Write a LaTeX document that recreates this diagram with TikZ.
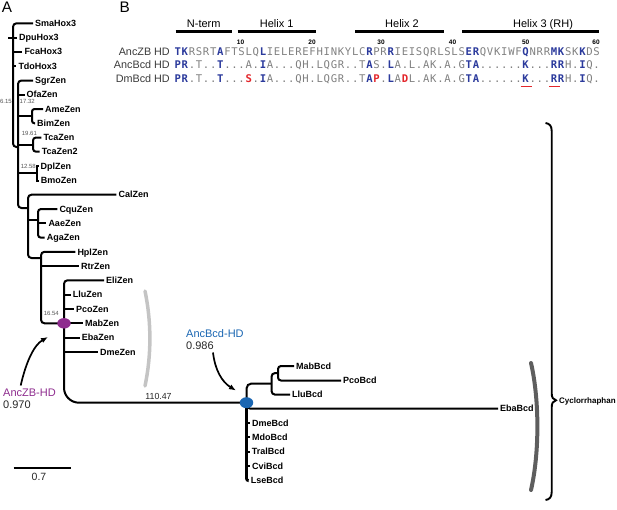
\documentclass[tikz,border=0pt]{standalone}
\usepackage{fontspec}
\setmainfont{Liberation Sans}
\newfontfamily\seqfont{DejaVu Sans Mono}
\usetikzlibrary{shapes.geometric,arrows.meta}
\definecolor{seqgray}{HTML}{808080}
\definecolor{seqblue}{HTML}{2B3A9C}
\definecolor{seqred}{HTML}{E3262B}
\definecolor{ancpurple}{HTML}{8E2C8E}
\definecolor{ancblue}{HTML}{1A66B2}
\definecolor{lightarc}{HTML}{C4C4C4}
\definecolor{darkarc}{HTML}{5E5E5E}
\definecolor{suppgray}{HTML}{555555}
\definecolor{labgray}{HTML}{3A3A3A}
\newlength\seqcw \setlength\seqcw{7.1pt}
\def\seqstyle{}
\def\seqchars#1{\ifx#1\relax\else\makebox[\seqcw]{\seqstyle#1}\expandafter\seqchars\fi}
\newcommand\seqG[1]{\def\seqstyle{\color{seqgray}\mdseries}\seqchars#1\relax}
\newcommand\seqB[1]{\def\seqstyle{\color{seqblue}\bfseries}\seqchars#1\relax}
\newcommand\seqR[1]{\def\seqstyle{\color{seqred}\bfseries}\seqchars#1\relax}
\begin{document}
\begin{tikzpicture}[x=1pt,y=-1pt,
  leaf/.style={font=\fontsize{9}{10}\selectfont\bfseries, inner sep=0pt, inner xsep=2pt, text height=6.45pt, text depth=0pt, anchor=west},
  br/.style={line width=2pt, rounded corners=3.5pt},
  supp/.style={font=\fontsize{6}{7}\selectfont, text=suppgray, inner sep=0pt, text height=4.3pt, text depth=0pt},
  ttl/.style={font=\fontsize{11}{12}\selectfont, inner sep=0pt, anchor=base},
  bar/.style={line width=2.7pt},
  num/.style={font=\fontsize{6.5}{7}\selectfont\bfseries, inner sep=0pt, anchor=base},
  rowlab/.style={font=\fontsize{10.8}{12}\selectfont, text=labgray, inner sep=0pt, anchor=base east},
  seqrow/.style={font=\seqfont\fontsize{10.6}{12}\selectfont, inner sep=0pt, anchor=base west},
  anclab/.style={font=\fontsize{11}{12}\selectfont, inner sep=0pt, anchor=west, text height=7.9pt, text depth=0pt},
  arrowline/.style={line width=1.7pt, -{Latex[length=7pt,width=5.5pt]}},
  panel/.style={font=\fontsize{15.3}{16}\selectfont, inner sep=0pt, anchor=north west, text height=11pt, text depth=0pt}
]
\useasboundingbox (0,0) rectangle (617,509);

% panel labels
\node[panel] (pa) at (1.7,1.7) {A};
\node[panel] (pb) at (119.5,1.7) {B};

% ---------- alignment ----------
\node[ttl] (t1) at (203.7,27.3) {N-term};
\node[ttl] (t2) at (276.7,27.3) {Helix 1};
\node[ttl] (t3) at (402,27.3) {Helix 2};
\node[ttl] (t4) at (543,27.3) {Helix 3 (RH)};
\draw[bar] (175.7,31.7) -- (231.7,31.7);
\draw[bar] (237.7,31.7) -- (316,31.7);
\draw[bar] (355,31.7) -- (444,31.7);
\draw[bar] (462.3,31.7) -- (599.3,31.7);
\node[num] (n10) at (240.5,44) {10};
\node[num] (n20) at (312,44) {20};
\node[num] (n30) at (381,44) {30};
\node[num] (n40) at (452.5,44) {40};
\node[num] (n50) at (525.7,44) {50};
\node[num] (n60) at (596,44) {60};

\node[rowlab] (l1) at (170,55.3) {AncZB HD};
\node[rowlab] (l2) at (170,68.8) {AncBcd HD};
\node[rowlab] (l3) at (170,82.3) {DmBcd HD};

\node[seqrow] (r1) at (174,55.3) {\seqB{TK}\seqG{RSRT}\seqB{A}\seqG{FTSLQ}\seqB{L}\seqG{IELEREFHINKYLC}\seqB{R}\seqG{PR}\seqB{R}\seqG{IEISQRLSLS}\seqB{ER}\seqG{QVKIWF}\seqB{Q}\seqG{NRR}\seqB{MK}\seqG{SK}\seqB{K}\seqG{DS}};
\node[seqrow] (r2) at (174,68.8) {\seqB{PR}\seqG{.T..}\seqB{T}\seqG{...A.}\seqB{I}\seqG{A...QH.LQGR..T}\seqB{A}\seqG{S.}\seqB{L}\seqG{A.L.AK.A.G}\seqB{TA}\seqG{......}\seqB{K}\seqG{...}\seqB{RR}\seqG{H.}\seqB{I}\seqG{Q.}};
\node[seqrow] (r3) at (174,82.3) {\seqB{PR}\seqG{.T..}\seqB{T}\seqG{...}\seqR{S}\seqG{.}\seqB{I}\seqG{A...QH.LQGR..T}\seqB{A}\seqR{P}\seqG{.}\seqB{L}\seqG{A}\seqR{D}\seqG{L.AK.A.G}\seqB{TA}\seqG{......}\seqB{K}\seqG{...}\seqB{RR}\seqG{H.}\seqB{I}\seqG{Q.}};
\draw[seqred, line width=1.5pt] (520.7,86.3) -- (532,86.3);
\draw[seqred, line width=1.5pt] (549.3,86.3) -- (560,86.3);

% ---------- tree leaves ----------
\node[leaf] (sma) at (33,23.3) {SmaHox3};
\node[leaf] (dpu) at (17,37.7) {DpuHox3};
\node[leaf] (fca) at (22.3,51.7) {FcaHox3};
\node[leaf] (tdo) at (16.3,66) {TdoHox3};
\node[leaf] (sgr) at (33,80.5) {SgrZen};
\node[leaf] (ofa) at (24.5,94.5) {OfaZen};
\node[leaf] (ame) at (43,109) {AmeZen};
\node[leaf] (bim) at (35,123.3) {BimZen};
\node[leaf] (tca) at (41.3,137.5) {TcaZen};
\node[leaf] (tca2) at (39.7,151.7) {TcaZen2};
\node[leaf] (dpl) at (38.5,166) {DplZen};
\node[leaf] (bmo) at (38.7,180.5) {BmoZen};
\node[leaf] (cal) at (116.3,194.7) {CalZen};
\node[leaf] (cqu) at (57.3,209) {CquZen};
\node[leaf] (aae) at (46.3,223.3) {AaeZen};
\node[leaf] (aga) at (44.7,237.7) {AgaZen};
\node[leaf] (hpl) at (75.3,251.8) {HplZen};
\node[leaf] (rtr) at (79,266) {RtrZen};
\node[leaf] (eli) at (104,280.3) {EliZen};
\node[leaf] (llu) at (70.7,294.7) {LluZen};
\node[leaf] (pco) at (74,309) {PcoZen};
\node[leaf] (mab) at (83,323.3) {MabZen};
\node[leaf] (eba) at (79.7,337.5) {EbaZen};
\node[leaf] (dme) at (98,351.8) {DmeZen};
\node[leaf] (mabb) at (294,366) {MabBcd};
\node[leaf] (pcob) at (341,380.5) {PcoBcd};
\node[leaf] (llub) at (290,394.5) {LluBcd};
\node[leaf] (ebab) at (498,408.7) {EbaBcd};
\node[leaf] (dmeb) at (250,423.2) {DmeBcd};
\node[leaf] (mdob) at (250,437.4) {MdoBcd};
\node[leaf] (tralb) at (249.7,451.7) {TralBcd};
\node[leaf] (cvib) at (250,466) {CviBcd};
\node[leaf] (lseb) at (248.7,480.6) {LseBcd};

% internal nodes
\coordinate (root) at (8,37.7);
\coordinate (R) at (13,90);
\coordinate (Z) at (18,147);
\coordinate (AB) at (32,116);
\coordinate (TC) at (33,144.6);
\coordinate (DB) at (36.5,173.2);
\coordinate (C) at (28,208);
\coordinate (CQ) at (38,220);
\coordinate (E) at (41,258);
\coordinate (F) at (64,323.3);
\coordinate (B) at (246.5,402.7);
\coordinate (Q) at (271.7,383.5);
\coordinate (P) at (278,373.2);

% branches
\draw[br] (root) -- (dpu.west);
\draw[br] (sma.west) -| (R) |- (Z);
\draw[br] (fca.west -| R) -- (fca.west);
\draw[br] (tdo.west -| R) -- (tdo.west);
\draw[br] (sgr.west) -| (Z) |- (C);
\draw[br] (ofa.west -| Z) -- (ofa.west);
\draw[br] (AB -| Z) -- (AB);
\draw[br, rounded corners=2.5pt] (ame.west) -| (AB) |- (bim.west);
\draw[br] (TC -| Z) -- (TC);
\draw[br, rounded corners=3pt] (tca.west) -| (TC) |- (tca2.west);
\draw[br] (DB -| Z) -- (DB);
\draw[br, sharp corners] (dpl.west) -| (DB) |- (bmo.west);
\draw[br] (cal.west) -| (C) |- (E);
\draw[br] (CQ -| C) -- (CQ);
\draw[br, rounded corners=3pt] (cqu.west) -| (CQ) |- (aga.west);
\draw[br] (aae.west -| CQ) -- (aae.west);
\draw[br] (hpl.west) -| (E) |- (F);
\draw[br] (rtr.west -| E) -- (rtr.west);
\draw[br] (eli.west) -| (F);
\foreach \n in {llu,pco,mab,eba,dme} \draw[br] (\n.west -| F) -- (\n.west);
\draw[br, rounded corners=15pt] (F) |- (B);
\draw[br, rounded corners=5pt] (B) |- (Q);
\draw[br, rounded corners=3pt] (P) -| (Q) |- (llub.west);
\draw[br, rounded corners=3pt] (mabb.west) -| (P) |- (pcob.west);
\draw[br, rounded corners=4pt] (B) |- (ebab.west);
\draw[br, line width=2.8pt, rounded corners=2pt] (B) |- (lseb.west);
\foreach \n in {dmeb,mdob,tralb,cvib} \draw[br] (\n.west -| B) -- (\n.west);

% support values
\node[supp, anchor=east] (s1) at (12,101.5) {6.15};
\node[supp, anchor=west] (s2) at (19.5,101.5) {17.32};
\node[supp, anchor=west] (s3) at (21.7,133.3) {19.61};
\node[supp, anchor=east] (s4) at (36,166.5) {12.58};
\node[supp, anchor=east] (s5) at (59,313.5) {16.54};
\node[font=\fontsize{8.8}{10}\selectfont, text=black!85, inner sep=0pt] (s6) at (158.5,396) {110.47};

% ancestral nodes
\node[ellipse, fill=ancpurple, minimum width=13.5pt, minimum height=10.5pt, inner sep=0pt] (fz) at (F) {};
\node[ellipse, fill=ancblue, minimum width=13.5pt, minimum height=11pt, inner sep=0pt] (bz) at (B) {};

% arcs and brace
\draw[line width=3.5pt, lightarc, line cap=round] (145,291) .. controls (151.5,322) and (151.5,355) .. (145,386);
\draw[line width=4pt, darkarc, line cap=round] (531,363) .. controls (539.5,400) and (539.5,453) .. (531,490);
\draw[line width=1.9pt] (545.5,123) .. controls (549.5,123.5) and (551.7,126) .. (551.7,131) -- (551.7,393) .. controls (551.7,397.5) and (553,399.5) .. (556,400.3) .. controls (553,401) and (551.7,403) .. (551.7,407.5) -- (551.7,492) .. controls (551.7,497) and (549.5,499.5) .. (545.5,500);
\node[font=\fontsize{8}{9}\selectfont\bfseries, anchor=west, inner sep=0pt, text height=5.7pt, text depth=0pt] (cyc) at (559,400.3) {Cyclorrhaphan};

% ancestral labels and arrows
\node[anclab, text=ancpurple] (azb) at (3,392.3) {AncZB-HD};
\node[anclab, text=black!85] (azbv) at (3,404.3) {0.970};
\node[anclab, text=ancblue] (abcd) at (186,334) {AncBcd-HD};
\node[anclab, text=black!85] (abcdv) at (186,345.5) {0.986};
\coordinate (azbt) at (20.7,385.5);
\coordinate (azbh) at (48,337);
\draw[arrowline] (azbt) .. controls (26,362) and (34,345) .. (azbh);
\coordinate (abt) at (213,352.5);
\coordinate (abh) at (236,390.5);
\draw[arrowline] (abt) .. controls (215,370) and (222,382) .. (abh);

% scale bar
\coordinate (sb1) at (13.5,467.7);
\coordinate (sb2) at (71,467.7);
\draw[line width=1.9pt] (sb1) -- (sb2);
\node[font=\fontsize{10.5}{12}\selectfont, text=black!85, inner sep=0pt] (sbl) at (39,476.7) {0.7};
\end{tikzpicture}
\end{document}
